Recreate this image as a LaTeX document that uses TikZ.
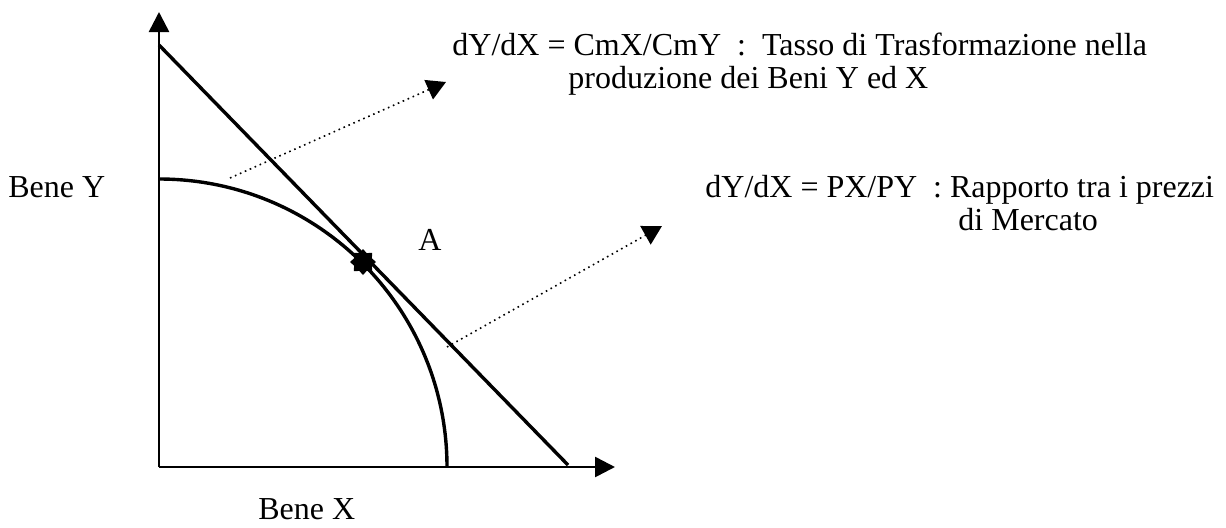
\documentclass[tikz,border=0pt]{standalone}
\usepackage{fontspec}
\setmainfont{Liberation Serif}
\usetikzlibrary{arrows.meta,shapes.geometric}
\begin{document}
\begin{tikzpicture}[x=0.5pt,y=0.5pt,
  axis/.style={line width=1.3pt,-{Triangle[length=10pt,width=10pt]}},
  curveline/.style={line width=1.7pt},
  pointer/.style={line width=0.8pt,dash pattern=on 0.8pt off 1.9pt,-{Triangle[length=9.5pt,width=10.5pt]}},
  lab/.style={anchor=base west,inner sep=0pt,font=\fontsize{16pt}{19pt}\selectfont}]
\useasboundingbox (0,0) rectangle (1226,527);
\coordinate (O) at (159,60);
\coordinate (ytip) at (159,515);
\coordinate (xtip) at (615,60);
\coordinate (ls) at (159,482);
\coordinate (le) at (568,62);
\coordinate (as) at (159,348);
\coordinate (p1s) at (230,349);
\coordinate (p1e) at (446,445);
\coordinate (p2s) at (447,180);
\coordinate (p2e) at (662,301);
\draw[axis] (O) -- (ytip);
\draw[axis] (O) -- (xtip);
\draw[curveline] (ls) -- (le);
\draw[curveline] (as) arc[start angle=90,end angle=0,radius=288];
\draw[pointer] (p1s) -- (p1e);
\draw[pointer] (p2s) -- (p2e);
\node[star,star points=8,star point ratio=1.35,minimum size=13pt,inner sep=0pt,fill=black] (eq) at (363,265) {};
\node[lab] (beneY) at (8,330) {Bene Y};
\node[lab] (beneX) at (258,8) {Bene X};
\node[lab] (A) at (418,277) {A};
\node[lab] (t1) at (452,472) {dY/dX = CmX/CmY\ \ :\ \ Tasso di Trasformazione nella};
\node[lab] (t2) at (568,439) {produzione dei Beni Y ed X};
\node[lab] (t3) at (705,330) {dY/dX = PX/PY\ \ : Rapporto tra i prezzi};
\node[lab] (t4) at (958,297) {di Mercato};
\end{tikzpicture}
\end{document}
